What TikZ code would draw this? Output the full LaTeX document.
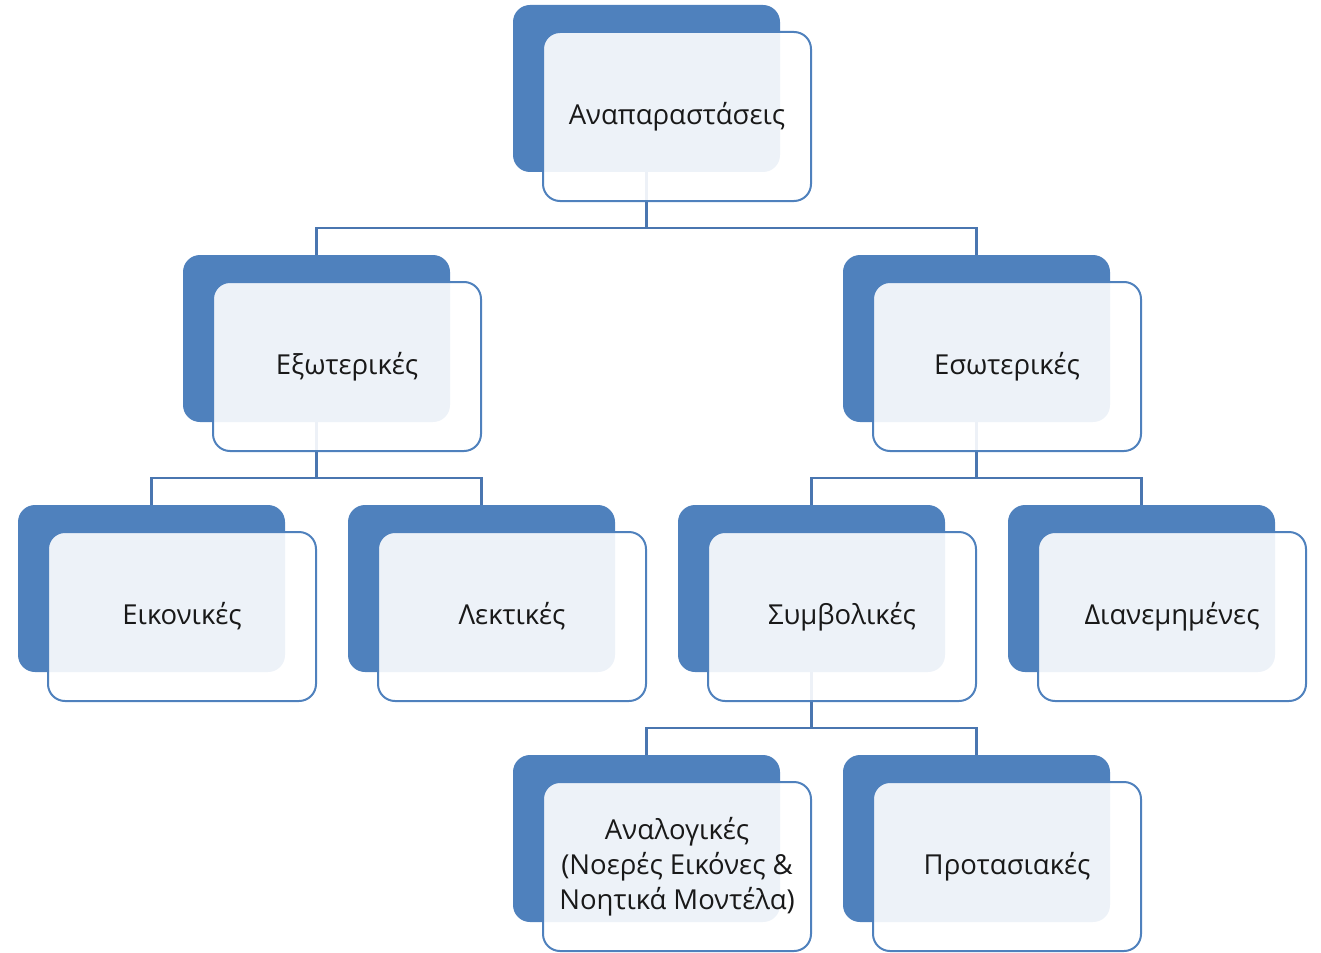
\documentclass[tikz,border=0pt]{standalone}
\usepackage{fontspec}
\setmainfont{Open Sans}
\definecolor{accent}{HTML}{4F81BD}
\definecolor{connc}{HTML}{4A76B0}
\tikzset{
  darkbox/.style={rectangle, rounded corners=17pt, fill=accent, minimum width=267pt, minimum height=167pt, anchor=north west, inner sep=0pt, outer sep=0pt},
  frontbox/.style={rectangle, rounded corners=17pt, draw=accent, line width=2pt, fill=white, fill opacity=0.9, text opacity=1, minimum width=268pt, minimum height=169pt, anchor=north west, align=center, inner sep=0pt, outer sep=0pt, font=\fontsize{27.5}{35}\selectfont, text=black!90},
  connline/.style={draw=connc, line width=2.5pt}
}
\begin{document}
\begin{tikzpicture}[x=1pt,y=-1pt]
\useasboundingbox (0,0) rectangle (1321,952);
% back boxes
\node[darkbox] (d0) at (513,5) {};
\node[darkbox] (d1) at (183,255) {};
\node[darkbox] (d2) at (843,255) {};
\node[darkbox] (d3) at (18,505) {};
\node[darkbox] (d4) at (348,505) {};
\node[darkbox] (d5) at (678,505) {};
\node[darkbox] (d6) at (1008,505) {};
\node[darkbox] (d7) at (513,755) {};
\node[darkbox] (d8) at (843,755) {};
% connectors
\draw[connline] (d0.south) -- ++(0,56) -| (d1.north);
\draw[connline] (d0.south) -- ++(0,56) -| (d2.north);
\draw[connline] (d1.south) -- ++(0,56) -| (d3.north);
\draw[connline] (d1.south) -- ++(0,56) -| (d4.north);
\draw[connline] (d2.south) -- ++(0,56) -| (d5.north);
\draw[connline] (d2.south) -- ++(0,56) -| (d6.north);
\draw[connline] (d5.south) -- ++(0,56) -| (d7.north);
\draw[connline] (d5.south) -- ++(0,56) -| (d8.north);
% front boxes
\node[frontbox] (f0) at (543,32) {Αναπαραστάσεις};
\node[frontbox] (f1) at (213,282) {Εξωτερικές};
\node[frontbox] (f2) at (873,282) {Εσωτερικές};
\node[frontbox] (f3) at (48,532) {Εικονικές};
\node[frontbox] (f4) at (378,532) {Λεκτικές};
\node[frontbox] (f5) at (708,532) {Συμβολικές};
\node[frontbox] (f6) at (1038,532) {Διανεμημένες};
\node[frontbox] (f7) at (543,782) {Αναλογικές\\(Νοερές Εικόνες \&\\Νοητικά Μοντέλα)};
\node[frontbox] (f8) at (873,782) {Προτασιακές};
\end{tikzpicture}
\end{document}
